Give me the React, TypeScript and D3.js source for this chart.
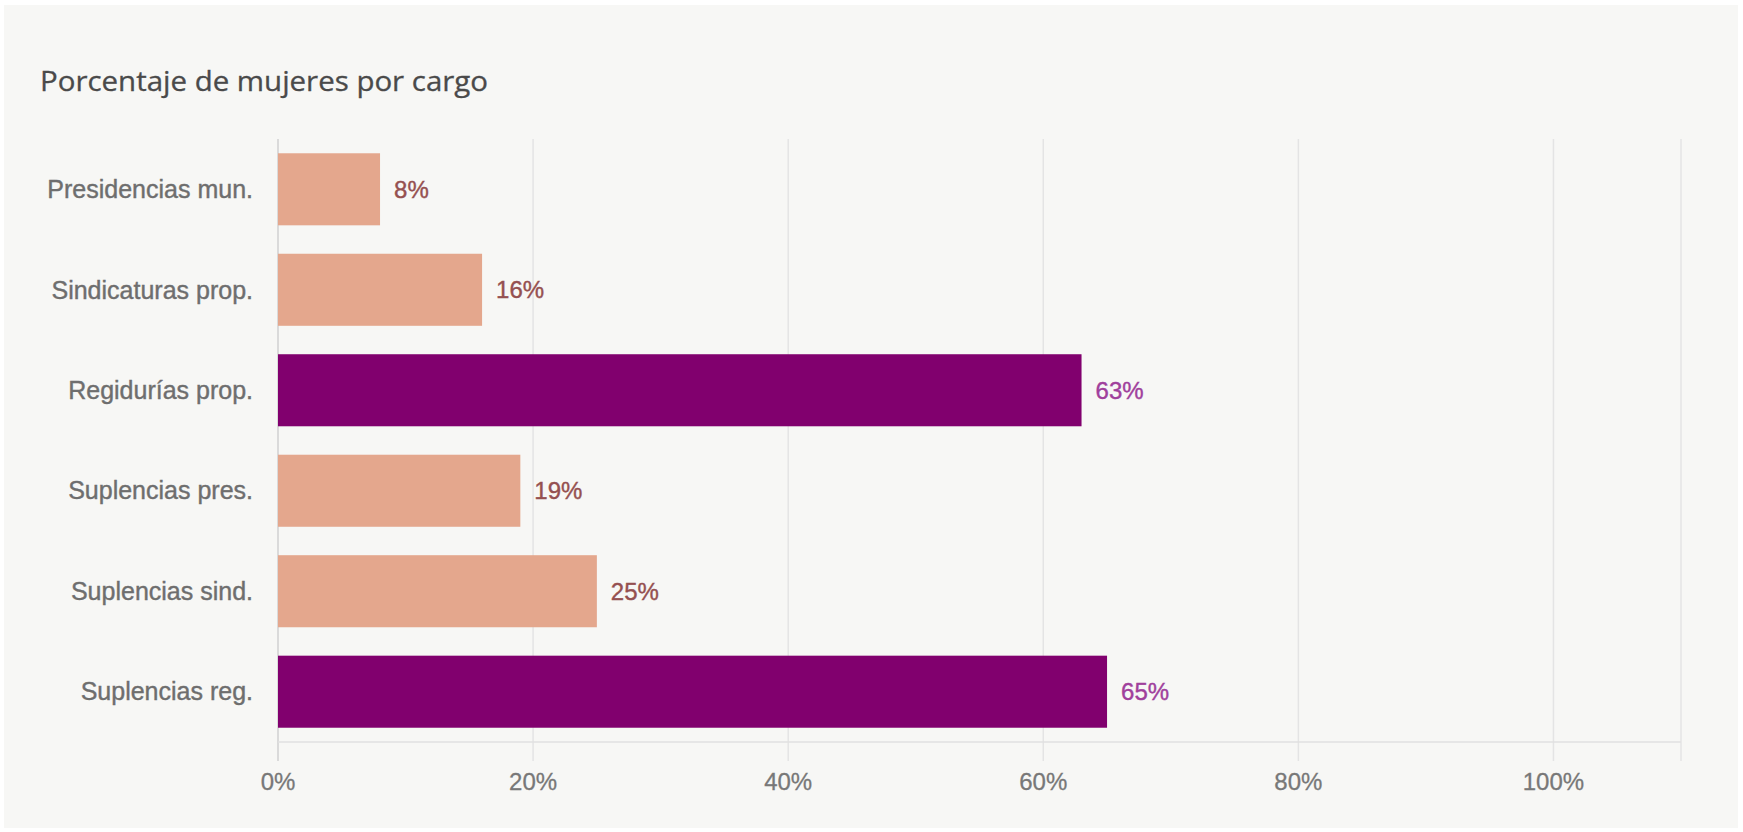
import React from "react";
import * as d3 from "d3";

const categories = [
  "Presidencias mun.",
  "Sindicaturas prop.",
  "Regidurías prop.",
  "Suplencias pres.",
  "Suplencias sind.",
  "Suplencias reg.",
];
const values = [8, 16, 63, 19, 25, 65];
const highlighted = [false, false, true, false, false, true];
const xTicks = [0, 20, 40, 60, 80, 100];
const title = "Porcentaje de mujeres por cargo";

const W = 1743;
const H = 832;
const left = 278;
const right = 1681;
const top = 139;
const bottom = 742;

const PEACH = "#e4a78d";
const PURPLE = "#81006e";
const PEACH_LABEL = "#955050";
const PURPLE_LABEL = "#a0409c";

export default function App() {
  const x = d3.scaleLinear().domain([0, 110]).range([left, right]);
  const y = d3
    .scaleBand<string>()
    .domain(categories)
    .range([top, bottom])
    .paddingInner(0.283)
    .paddingOuter(0.142);

  const labelFont = "'Liberation Sans', Arial, sans-serif";

  return (
    <svg
      width={W}
      height={H}
      style={{ position: "absolute", left: 0, top: 0, background: "#ffffff" }}
    >
      <rect x={4} y={5} width={W - 9} height={H - 9} fill="#f7f7f5" />
      <text
        x={40}
        y={91}
        fontFamily="'Open Sans', 'Noto Sans', sans-serif"
        fontSize={27}
        fontWeight={500}
        fill="#4a4a4a"
        stroke="#4a4a4a"
        strokeWidth={0.3}
        textLength={448}
        lengthAdjust="spacingAndGlyphs"
      >
        {title}
      </text>
      {/* gridlines */}
      {xTicks.map((t) => (
        <line
          key={"g" + t}
          x1={x(t)}
          x2={x(t)}
          y1={top}
          y2={bottom + 19}
          stroke={t === 0 ? "#d0d0d0" : "#e4e4e4"}
          strokeWidth={1.5}
        />
      ))}
      <line
        x1={x(110)}
        x2={x(110)}
        y1={top}
        y2={bottom + 19}
        stroke="#e4e4e4"
        strokeWidth={1.5}
      />
      <line
        x1={left}
        x2={right}
        y1={bottom}
        y2={bottom}
        stroke="#e0e0e0"
        strokeWidth={1.5}
      />
      {/* bars */}
      {categories.map((c, i) => (
        <rect
          key={"b" + c}
          x={x(0)}
          y={y(c)}
          width={x(values[i]) - x(0)}
          height={y.bandwidth()}
          fill={highlighted[i] ? PURPLE : PEACH}
        />
      ))}
      {/* category labels */}
      {categories.map((c) => (
        <text
          key={"l" + c}
          x={253}
          y={(y(c) as number) + y.bandwidth() / 2}
          dy="0.35em"
          textAnchor="end"
          fontFamily={labelFont}
          fontSize={25}
          fill="#6e6e6e"
          stroke="#6e6e6e"
          strokeWidth={0.4}
        >
          {c}
        </text>
      ))}
      {/* value labels */}
      {categories.map((c, i) => (
        <text
          key={"v" + c}
          x={x(values[i]) + 14}
          y={(y(c) as number) + y.bandwidth() / 2}
          dy="0.35em"
          fontFamily={labelFont}
          fontSize={24}
          fill={highlighted[i] ? PURPLE_LABEL : PEACH_LABEL}
          stroke={highlighted[i] ? PURPLE_LABEL : PEACH_LABEL}
          strokeWidth={0.4}
        >
          {values[i] + "%"}
        </text>
      ))}
      {/* tick labels */}
      {xTicks.map((t) => (
        <text
          key={"t" + t}
          x={x(t)}
          y={782}
          dy="0.35em"
          textAnchor="middle"
          fontFamily={labelFont}
          fontSize={24}
          fill="#787878"
          stroke="#787878"
          strokeWidth={0.3}
        >
          {t + "%"}
        </text>
      ))}
    </svg>
  );
}
